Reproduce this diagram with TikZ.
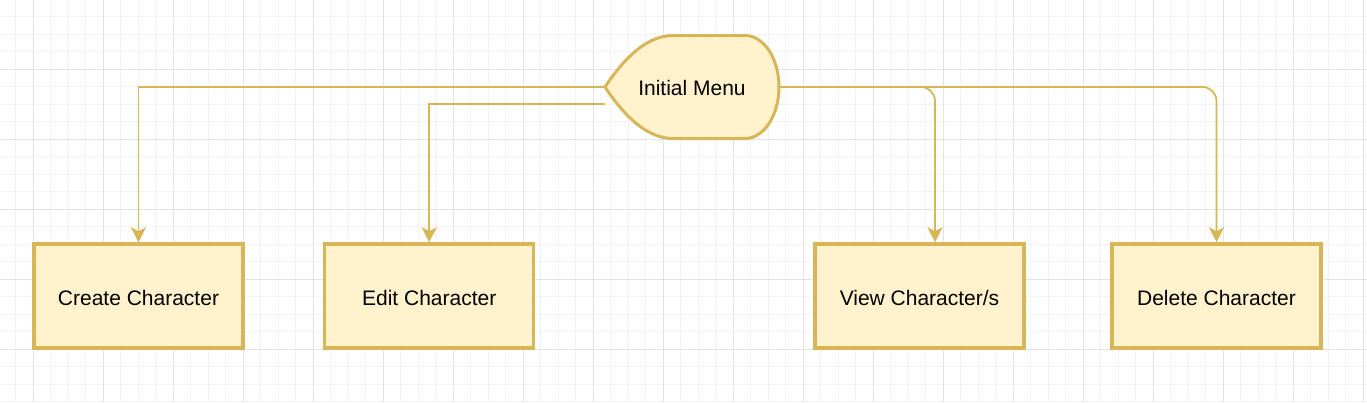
\documentclass[tikz,border=0pt]{standalone}
\usepackage{fontspec}
\setmainfont{Liberation Sans}
\usetikzlibrary{arrows.meta}
\definecolor{strokeY}{HTML}{D6B656}
\definecolor{fillY}{HTML}{FFF2CC}
\definecolor{gridminor}{HTML}{F3F3F3}
\definecolor{gridmajor}{HTML}{E3E3E3}
\begin{document}
\begin{tikzpicture}[x=1pt,y=-1pt,
  box/.style={draw=strokeY, fill=fillY, line width=3.5pt, minimum width=209pt,
    minimum height=104pt, inner sep=0pt, text height=19pt, text depth=0pt,
    font=\fontsize{21}{25}\selectfont},
  conn/.style={draw=strokeY, line width=1.75pt,
    -{Stealth[length=15pt,width=15pt,inset=4pt]}},
  outline/.style={draw=strokeY, fill=fillY, line width=3pt}]
\useasboundingbox (0,0) rectangle (1367,402);
\fill[white] (0,0) rectangle (1367,402);
% grid
\foreach \k in {0,...,77} \draw[gridminor, line width=1pt] (15.83+17.5*\k,0) -- (15.83+17.5*\k,402);
\foreach \k in {0,...,22} \draw[gridminor, line width=1pt] (0,16.8+17.5*\k) -- (1367,16.8+17.5*\k);
\foreach \k in {0,...,19} \draw[gridmajor, line width=1pt] (33.33+70*\k,0) -- (33.33+70*\k,402);
\foreach \k in {0,...,4} \draw[gridmajor, line width=1pt] (0,69.3+70*\k) -- (1367,69.3+70*\k);
% display shape
\draw[outline] (605,87) .. controls (627.7,52.7) and (650.3,35.5) .. (673,35.5)
  -- (745,35.5) .. controls (763.8,35.5) and (779,58.6) .. (779,87)
  .. controls (779,115.4) and (763.8,138.5) .. (745,138.5)
  -- (673,138.5) .. controls (650.3,138.5) and (627.7,121.3) .. cycle;
\node[minimum width=174pt, minimum height=103pt, inner sep=0pt, outer sep=0pt,
  text height=17.4pt, text depth=0pt,
  font=\fontsize{21}{25}\selectfont] (menu) at (692,87) {Initial Menu};
\coordinate (editsrc) at (605,104);
% boxes
\node[box] (create) at (138.5,296) {Create Character};
\node[box] (edit) at (429.2,296) {Edit Character};
\node[box] (view) at (919.5,296) {View Character/s};
\node[box] (delete) at (1216.5,296) {Delete Character};
% connectors
\draw[conn] (menu.west) -| (create.north);
\draw[conn] (editsrc) -| (edit.north);
\draw[conn, rounded corners=14pt] (menu.east) -| ([xshift=15.5pt]view.north);
\draw[conn, rounded corners=14pt] (menu.east) -| (delete.north);
\end{tikzpicture}
\end{document}
